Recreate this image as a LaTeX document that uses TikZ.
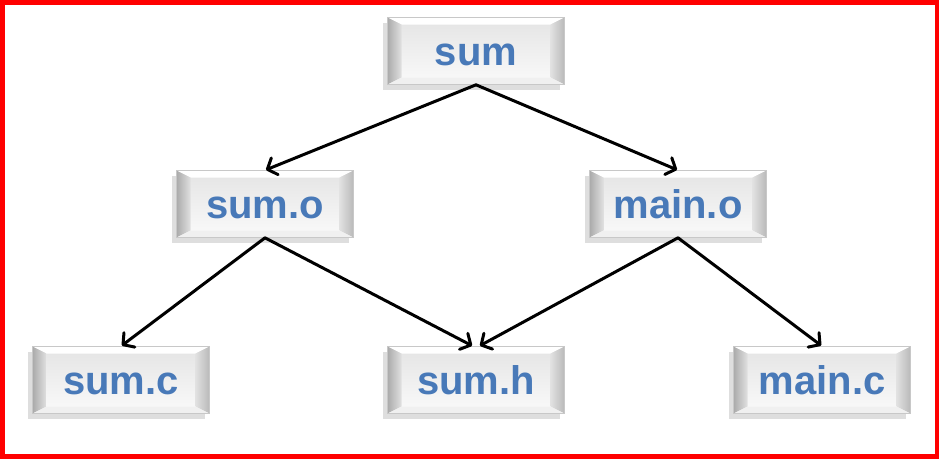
\documentclass[tikz,border=0pt]{standalone}
\usepackage{fontspec}
\setmainfont{Liberation Sans}
\usetikzlibrary{arrows.meta,shadows}
\definecolor{txtblue}{RGB}{72,121,184}
\definecolor{bordred}{RGB}{255,0,0}
\definecolor{facetop}{RGB}{228,228,228}
\definecolor{facebot}{RGB}{250,250,250}
\definecolor{boxedge}{RGB}{200,200,200}
\definecolor{bevdark}{RGB}{170,170,170}
\definecolor{bevmid}{RGB}{225,225,225}
\definecolor{bevright}{RGB}{185,185,185}
\definecolor{bevbot}{RGB}{240,240,240}
\tikzset{
  bevelbox/.style={
    minimum width=177pt, minimum height=67pt, inner sep=0pt,
    text height=30pt, text depth=2pt,
    draw=boxedge, line width=0.6pt,
    top color=facetop, bottom color=facebot,
    font=\fontsize{40pt}{41pt}\selectfont\bfseries, text=txtblue,
    drop shadow={shadow xshift=-5pt, shadow yshift=-5pt, opacity=0.13, fill=black},
    path picture={
      \coordinate (nw) at (path picture bounding box.north west);
      \coordinate (se) at (path picture bounding box.south east);
      \coordinate (ne) at (path picture bounding box.north east);
      \coordinate (sw) at (path picture bounding box.south west);
      \fill[white] (nw) -- (ne) -- ([shift={(-14pt,-7pt)}]ne) -- ([shift={(14pt,-7pt)}]nw) -- cycle;
      \shade[left color=bevdark, right color=bevmid]
        (nw) -- ([shift={(14pt,-7pt)}]nw) -- ([shift={(14pt,7pt)}]sw) -- (sw) -- cycle;
      \shade[left color=bevmid, right color=bevright]
        (ne) -- ([shift={(-14pt,-7pt)}]ne) -- ([shift={(-14pt,7pt)}]se) -- (se) -- cycle;
      \fill[bevbot] (sw) -- ([shift={(14pt,7pt)}]sw) -- ([shift={(-14pt,7pt)}]se) -- (se) -- cycle;
    }
  },
  conn/.style={draw=black, line width=3pt, line cap=round,
    -{Straight Barb[length=8pt,width=18pt,line width=3pt,round]}, shorten >=1pt}
}
\begin{document}
\begin{tikzpicture}[x=1pt,y=-1pt]
  \useasboundingbox (0,0) rectangle (943,459);
  \fill[white] (0,0) rectangle (943,459);
  \draw[bordred, line width=4.5pt] (2.5,2.5) rectangle (937,456.5);

  \node[bevelbox] (sum)   at (476,51)  {sum};
  \node[bevelbox] (sumo)  at (265,204) {sum.o};
  \node[bevelbox] (maino) at (678,204) {main.o};
  \node[bevelbox] (sumc)  at (121,380) {sum.c};
  \node[bevelbox] (sumh)  at (476,380) {sum.h};
  \node[bevelbox] (mainc) at (822,380) {main.c};

  \draw[conn] (sum.south) -- (sumo.north);
  \draw[conn] (sum.south) -- (maino.north);
  \draw[conn] (sumo.south) -- (sumc.north);
  \draw[conn] (sumo.south) -- ([xshift=-3pt]sumh.north);
  \draw[conn] (maino.south) -- ([xshift=3pt]sumh.north);
  \draw[conn] (maino.south) -- (mainc.north);
\end{tikzpicture}
\end{document}
